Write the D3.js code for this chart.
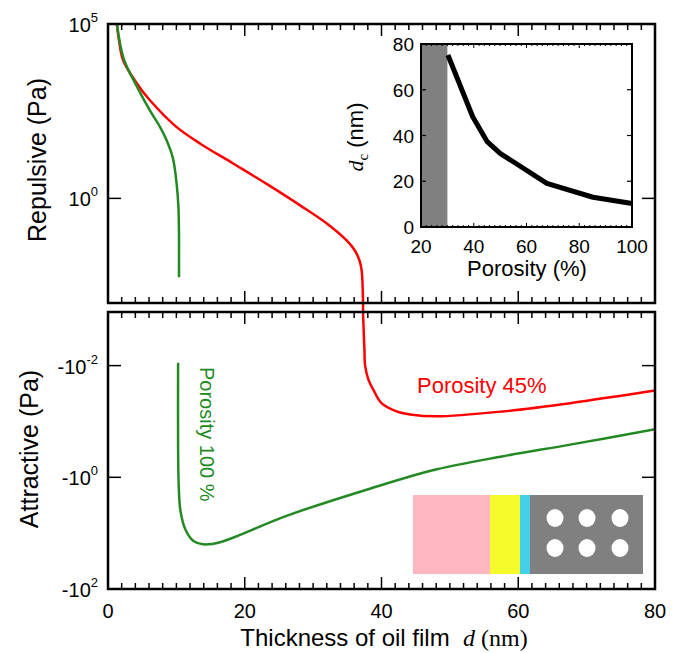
<!DOCTYPE html>
<html>
<head>
<meta charset="utf-8">
<script src="https://cdn.jsdelivr.net/npm/d3@7"></script>
<style>
body { margin: 0; background: #fff; }
text { font-family: "Liberation Sans", Arial, Helvetica, sans-serif; fill: #000; }
.serif { font-family: "Liberation Serif", "Times New Roman", serif; }
</style>
</head>
<body>
<div id="chart"></div>
<script>
// porosity 45 % (red), repulsive part, thickness d (nm) and pressure (Pa)
var redTopD = [1.3, 1.6, 2.2, 4.2, 6.1, 10.0, 13.5, 18.3, 23.2, 28.1, 32.0, 34.9, 36.1, 36.8, 37.1, 37.3];
var redTopP = [1e5, 3.5e4, 9300, 2000, 660, 112, 37, 10, 2.6, 0.63, 0.19, 0.062, 0.032, 0.016, 0.0085, 0.001];
// porosity 45 %, attractive part
var redBotD = [37.3, 37.5, 37.6, 38.1, 38.8, 40.0, 42.2, 44.2, 48.1, 57.8, 67.6, 80];
var redBotP = [-0.0011, -0.005, -0.01, -0.018, -0.027, -0.047, -0.066, -0.075, -0.081, -0.066, -0.047, -0.028];
// porosity 100 % (green)
var greenTopD = [1.3, 2.3, 4.1, 6.1, 7.6, 8.6, 9.5, 10.05, 10.3, 10.38, 10.38];
var greenTopP = [1e5, 1.0e4, 1800, 340, 112, 45, 14, 2.5, 0.56, 0.1, 0.0055];
var greenBotD = [10.25, 10.25, 10.35, 10.6, 11.3, 12.5, 13.9, 16.4, 26.1, 38.3, 48.1, 57.8, 67.6, 80];
var greenBotP = [-0.0089, -0.3, -1.5, -4, -8.5, -13.8, -15.8, -14.5, -4.9, -1.6, -0.72, -0.42, -0.26, -0.138];
// inset: critical thickness vs porosity
var insetPorosity = [30.2, 39.6, 45.1, 50, 67.7, 85.2, 100];
var insetDc = [75.2, 48.2, 37.3, 32.2, 19.1, 13, 10.3];
var insetShade = [20, 30];

var xTicks = [0, 20, 40, 60, 80];
var insetXTicks = [20, 40, 60, 80, 100];
var insetYTicks = [0, 20, 40, 60, 80];

var red = "#ff0000", green = "#238a23";

var svg = d3.select("#chart").append("svg")
    .attr("width", 682)
    .attr("height", 653);

var x = d3.scaleLinear().domain([0, 80]).range([108, 655]);
var yTop = d3.scaleLog().domain([1e-3, 1e5]).range([303, 24]);
var yBot = d3.scaleLog().domain([-Math.pow(10, -2.96), -100]).range([312, 589]);

var panels = [{y0: 24, y1: 303}, {y0: 312, y1: 589}];

// x ticks on top and bottom of both panels, pointing inward
panels.forEach(function(p){
    d3.range(2, 80, 2).forEach(function(v){
        var len = (v % 20 == 0) ? 12 : 6;
        svg.append("line").attr("x1", x(v)).attr("x2", x(v))
            .attr("y1", p.y0).attr("y2", p.y0 + len)
            .attr("stroke", "#000").attr("stroke-width", 1.5);
        svg.append("line").attr("x1", x(v)).attr("x2", x(v))
            .attr("y1", p.y1).attr("y2", p.y1 - len)
            .attr("stroke", "#000").attr("stroke-width", 1.5);
    });
});

// y ticks (left and right)
function yTick(yy){
    svg.append("line").attr("x1", 108).attr("x2", 121).attr("y1", yy).attr("y2", yy)
        .attr("stroke", "#000").attr("stroke-width", 1.5);
    svg.append("line").attr("x1", 655).attr("x2", 642).attr("y1", yy).attr("y2", yy)
        .attr("stroke", "#000").attr("stroke-width", 1.5);
}
yTick(yTop(1));
yTick(yBot(-0.01));
yTick(yBot(-1));

// power-of-ten labels
function powLabel(yy, base, exp){
    var t = svg.append("text").attr("x", 98).attr("y", yy + 8)
        .attr("text-anchor", "end").style("font-size", "20px");
    t.append("tspan").text(base);
    t.append("tspan").attr("dy", -10).style("font-size", "13px").text(exp);
}
powLabel(yTop(1e5), "10", "5");
powLabel(yTop(1), "10", "0");
powLabel(yBot(-0.01), "-10", "-2");
powLabel(yBot(-1), "-10", "0");
powLabel(yBot(-100), "-10", "2");

// x tick labels
svg.selectAll(".xl").data(xTicks).enter().append("text")
    .attr("x", function(d){ return x(d); })
    .attr("y", 618)
    .attr("text-anchor", "middle")
    .style("font-size", "20px")
    .text(function(d){ return d; });

// axis titles
var xt = svg.append("text").attr("x", 384).attr("y", 646)
    .attr("text-anchor", "middle").style("font-size", "24px");
xt.append("tspan").text("Thickness of oil film\u00a0\u00a0");
xt.append("tspan").attr("class", "serif").style("font-style", "italic").text("d");
xt.append("tspan").attr("class", "serif").text(" (nm)");

svg.append("text").attr("transform", "translate(46,160) rotate(-90)")
    .attr("text-anchor", "middle").style("font-size", "25px").text("Repulsive (Pa)");
svg.append("text").attr("transform", "translate(38,449) rotate(-90)")
    .attr("text-anchor", "middle").style("font-size", "25px").text("Attractive (Pa)");

// curves
var line = d3.line().curve(d3.curveCatmullRom.alpha(0.5));

var redPts = redTopD.map(function(d, i){ return [x(d), yTop(redTopP[i])]; })
    .concat(redBotD.map(function(d, i){ return [x(d), yBot(redBotP[i])]; }));
svg.append("path").attr("d", line(redPts))
    .attr("fill", "none").attr("stroke", red).attr("stroke-width", 2.5);

var gTopPts = greenTopD.map(function(d, i){ return [x(d), yTop(greenTopP[i])]; });
var gBotPts = greenBotD.map(function(d, i){ return [x(d), yBot(greenBotP[i])]; });
[gTopPts, gBotPts].forEach(function(pts){
    svg.append("path").attr("d", line(pts))
        .attr("fill", "none").attr("stroke", green).attr("stroke-width", 2.5);
});

// labels on curves
svg.append("text").attr("x", 417).attr("y", 393)
    .style("font-size", "22px").style("fill", red).text("Porosity 45%");
svg.append("text").attr("transform", "translate(200,367) rotate(90)")
    .style("font-size", "20px").style("fill", green).text("Porosity 100 %");

// schematic: oil / layers / porous substrate
var sch = svg.append("g").attr("transform", "translate(413,495)");
sch.append("rect").attr("width", 77).attr("height", 79).attr("fill", "#ffb6c1");
sch.append("rect").attr("x", 77).attr("width", 30).attr("height", 79).attr("fill", "#f5fa2a");
sch.append("rect").attr("x", 107).attr("width", 10).attr("height", 79).attr("fill", "#44d0e8");
sch.append("rect").attr("x", 117).attr("width", 113).attr("height", 79).attr("fill", "#808080");
[142, 174, 207].forEach(function(cx){
    [23, 53].forEach(function(cy){
        sch.append("ellipse").attr("cx", cx).attr("cy", cy)
            .attr("rx", 8.5).attr("ry", 9).attr("fill", "#fff");
    });
});

// frames
panels.forEach(function(p){
    svg.append("rect").attr("x", 108).attr("y", p.y0)
        .attr("width", 655 - 108).attr("height", p.y1 - p.y0)
        .attr("fill", "none").attr("stroke", "#000").attr("stroke-width", 2.5);
});

// inset
var ix = d3.scaleLinear().domain([20, 100]).range([421, 632]);
var iy = d3.scaleLinear().domain([0, 80]).range([227, 44]);
var inset = svg.append("g");
inset.append("rect").attr("x", ix(insetShade[0])).attr("y", iy(80))
    .attr("width", ix(insetShade[1]) - ix(insetShade[0])).attr("height", iy(0) - iy(80))
    .attr("fill", "#808080");
d3.range(22, 100, 2).forEach(function(v){
    var len = (v % 20 == 0) ? 4 : 2;
    inset.append("line").attr("x1", ix(v)).attr("x2", ix(v))
        .attr("y1", iy(80)).attr("y2", iy(80) + len).attr("stroke", "#000").attr("stroke-width", 1);
    inset.append("line").attr("x1", ix(v)).attr("x2", ix(v))
        .attr("y1", iy(0)).attr("y2", iy(0) - len).attr("stroke", "#000").attr("stroke-width", 1);
});
[20, 40, 60].forEach(function(v){
    inset.append("line").attr("x1", ix(100)).attr("x2", ix(100) - 5)
        .attr("y1", iy(v)).attr("y2", iy(v)).attr("stroke", "#000").attr("stroke-width", 1.2);
    inset.append("line").attr("x1", ix(20)).attr("x2", ix(20) + 5)
        .attr("y1", iy(v)).attr("y2", iy(v)).attr("stroke", "#000").attr("stroke-width", 1.2);
});
inset.append("rect").attr("x", ix(20)).attr("y", iy(80))
    .attr("width", ix(100) - ix(20)).attr("height", iy(0) - iy(80))
    .attr("fill", "none").attr("stroke", "#000").attr("stroke-width", 2);
inset.append("path")
    .attr("d", d3.line().x(function(d, i){ return ix(d); })
        .y(function(d, i){ return iy(insetDc[i]); })(insetPorosity))
    .attr("fill", "none").attr("stroke", "#000").attr("stroke-width", 5)
    .attr("stroke-linejoin", "round");

inset.selectAll(".ixl").data(insetXTicks).enter().append("text")
    .attr("x", function(d){ return ix(d); }).attr("y", 253)
    .attr("text-anchor", "middle").style("font-size", "19px")
    .text(function(d){ return d; });
inset.selectAll(".iyl").data(insetYTicks).enter().append("text")
    .attr("x", 414).attr("y", function(d){ return iy(d) + 7; })
    .attr("text-anchor", "end").style("font-size", "19px")
    .text(function(d){ return d; });
inset.append("text").attr("x", 527).attr("y", 276)
    .attr("text-anchor", "middle").style("font-size", "22px").text("Porosity (%)");
var iyt = inset.append("text").attr("transform", "translate(363,137) rotate(-90)")
    .attr("text-anchor", "middle").style("font-size", "22px");
iyt.append("tspan").attr("class", "serif").style("font-style", "italic").text("d");
iyt.append("tspan").attr("class", "serif").attr("dy", 5).style("font-size", "15px").text("c");
iyt.append("tspan").attr("dy", -5).text(" (nm)");
</script>
</body>
</html>
